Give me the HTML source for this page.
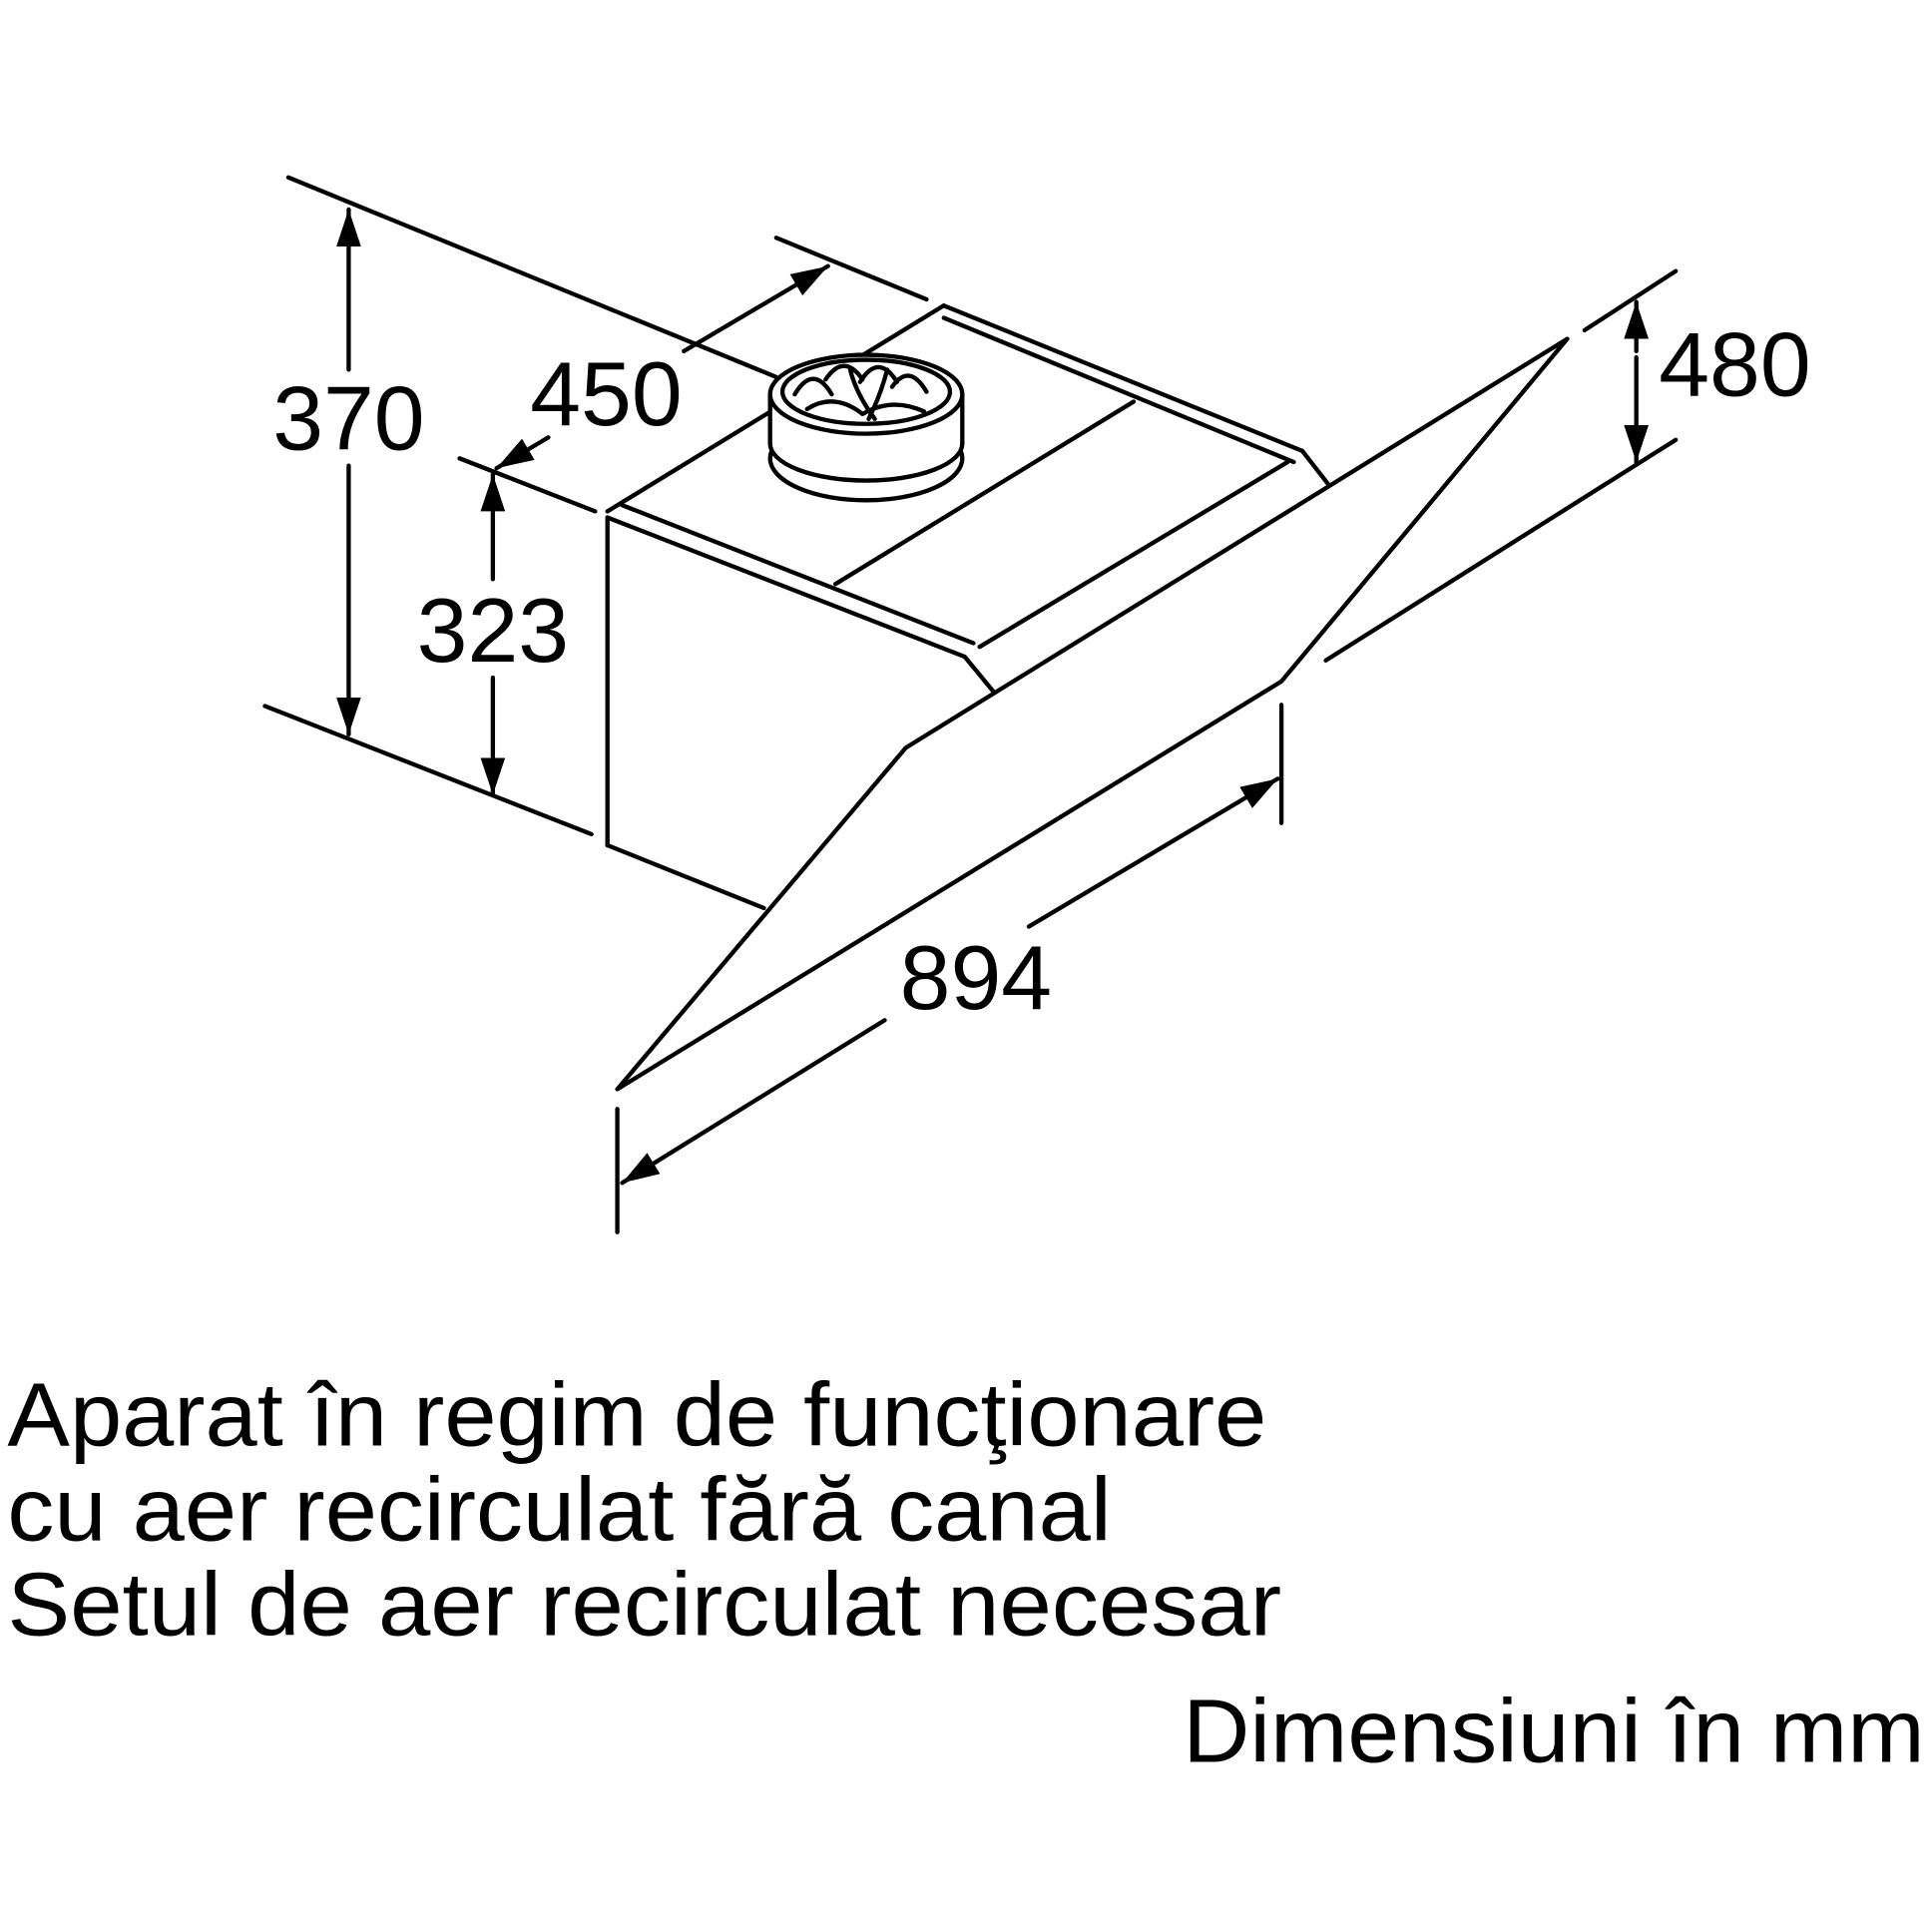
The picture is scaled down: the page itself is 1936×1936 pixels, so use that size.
<!DOCTYPE html>
<html><head><meta charset="utf-8"><style>
html,body{margin:0;padding:0;background:#fff;}
svg{display:block;}
text{font-family:"Liberation Sans",sans-serif;fill:#000;}
</style></head><body>
<svg width="1936" height="1936" viewBox="0 0 1568 1568" xmlns="http://www.w3.org/2000/svg">
<defs>
<marker id="ah" viewBox="0 0 30 20" refX="30" refY="10" markerWidth="30" markerHeight="20" markerUnits="userSpaceOnUse" orient="auto"><path d="M0,0 L30,10 L0,20z"/></marker>
</defs>
<g stroke="#000" stroke-width="3.5" fill="none" stroke-linecap="round" stroke-linejoin="round">
<line x1="234" y1="144" x2="630" y2="306"/>
<line x1="215" y1="573" x2="480" y2="677"/>
<line x1="493" y1="686" x2="620" y2="737"/>
<line x1="373" y1="372" x2="483" y2="415"/>
<line x1="630" y1="193" x2="752" y2="243"/>
<line x1="1286" y1="268" x2="1360" y2="220"/>
<line x1="1076" y1="536" x2="1360" y2="357"/>
<line x1="1040" y1="572" x2="1040" y2="668"/>
<line x1="501" y1="900" x2="501" y2="1000"/>
<line x1="493" y1="420" x2="493" y2="686"/>
<line x1="493" y1="415" x2="766" y2="248"/>
<line x1="766" y1="248" x2="1057" y2="366"/>
<line x1="766" y1="258" x2="1050" y2="375"/>
<line x1="493" y1="420" x2="783" y2="533"/>
<line x1="505" y1="410" x2="790" y2="522"/>
<line x1="783" y1="533" x2="806" y2="561"/>
<line x1="678" y1="474" x2="920" y2="326"/>
<line x1="795" y1="525" x2="1045" y2="375"/>
<line x1="1057" y1="366" x2="1078" y2="393"/>
<polygon points="735,607 1272,275 1040,553 501,884"/>
<ellipse cx="703" cy="372" rx="78" ry="34" fill="#fff"/>
<ellipse cx="703" cy="360" rx="78" ry="30" fill="#fff"/>
<rect x="625" y="320" width="156" height="40" fill="#fff" stroke="none"/>
<line x1="625" y1="320" x2="625" y2="360"/>
<line x1="781" y1="320" x2="781" y2="360"/>
<ellipse cx="703" cy="320" rx="78" ry="32" fill="#fff"/>
<ellipse cx="703" cy="318" rx="68" ry="26"/>
<path d="M645,320 q15,-25 30,0 M670,308 q15,-22 30,0 M698,310 q15,-24 30,0 M724,314 q14,-20 28,4 M655,332 q22,-14 45,4 M700,336 q24,-14 50,-2 M690,300 q5,20 20,40 M720,300 q-5,20 -15,40"/>
<line x1="283" y1="300" x2="283" y2="170" marker-end="url(#ah)"/>
<line x1="283" y1="378" x2="283" y2="596" marker-end="url(#ah)"/>
<line x1="400" y1="470" x2="400" y2="385" marker-end="url(#ah)"/>
<line x1="400" y1="550" x2="400" y2="645" marker-end="url(#ah)"/>
<line x1="445" y1="355" x2="403" y2="380" marker-end="url(#ah)"/>
<line x1="555" y1="285" x2="672" y2="216" marker-end="url(#ah)"/>
<line x1="1328" y1="285" x2="1328" y2="245" marker-end="url(#ah)"/>
<line x1="1328" y1="290" x2="1328" y2="375" marker-end="url(#ah)"/>
<line x1="835" y1="752" x2="1037" y2="632" marker-end="url(#ah)"/>
<line x1="718" y1="828" x2="505" y2="960" marker-end="url(#ah)"/>
</g>
<g font-size="74">
<text x="283" y="365" text-anchor="middle">370</text>
<text x="400" y="537" text-anchor="middle">323</text>
<text x="492" y="345" text-anchor="middle">450</text>
<text x="1408" y="321" text-anchor="middle">480</text>
<text x="792" y="819" text-anchor="middle">894</text>
</g>
<g font-size="73">
<text x="6" y="1173" textLength="1022" lengthAdjust="spacingAndGlyphs">Aparat în regim de funcţionare</text>
<text x="6" y="1250" textLength="896" lengthAdjust="spacingAndGlyphs">cu aer recirculat fără canal</text>
<text x="6" y="1327" textLength="1034" lengthAdjust="spacingAndGlyphs">Setul de aer recirculat necesar</text>
<text x="960" y="1430" textLength="602" lengthAdjust="spacingAndGlyphs">Dimensiuni în mm</text>
</g>
</svg>
</body></html>
